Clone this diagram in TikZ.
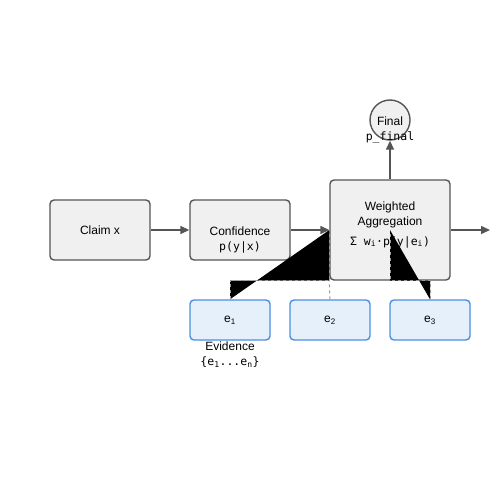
\documentclass[tikz,border=0pt]{standalone}
\usepackage{fontspec}
\setmainfont{Liberation Sans}
\setmonofont{DejaVu Sans Mono}
\usepackage{tikz}
\usetikzlibrary{arrows.meta}
\definecolor{boxfill}{HTML}{F0F0F0}
\definecolor{boxline}{HTML}{555555}
\definecolor{evfill}{HTML}{E6F0FB}
\definecolor{evline}{HTML}{4A90E2}
\definecolor{dashline}{HTML}{999999}

\begin{document}
\begin{tikzpicture}[x=1pt, y=-1pt, >={Triangle[length=9pt,width=8pt]},
    box/.style={draw=boxline, fill=boxfill, line width=1.4pt, rounded corners=4pt,
      minimum width=100pt, minimum height=60pt, inner sep=0pt, font=\fontsize{12}{14}\selectfont},
    evbox/.style={draw=evline, fill=evfill, line width=1.4pt, rounded corners=4pt,
      minimum width=80pt, minimum height=40pt, inner sep=0pt, font=\fontsize{12}{14}\selectfont},
    link/.style={->, draw=boxline, fill=boxline, line width=1.5pt},
    tie/.style={draw=dashline, dashed, line width=1pt},
    txt/.style={anchor=base, inner sep=0pt, font=\fontsize{12}{14}\selectfont},
    code/.style={anchor=base, inner sep=0pt, font=\ttfamily\fontsize{11.5}{13}\selectfont}]
  \useasboundingbox (0,0) rectangle (500,500);
  \node[box] (claim) at (100,230) {Claim x};
  \node[box] (conf) at (240,230) {};
  \node[txt] (conftitle) at ([yshift=-5pt]conf.center) {Confidence};
  \node[code] (confprob) at ([yshift=-20pt]conf.center) {p(y|x)};
  \node[box, minimum width=120pt, minimum height=100pt] (agg) at (390,230) {};
  \node[txt] (aggtop) at ([yshift=20pt]agg.center) {Weighted};
  \node[txt] (aggbottom) at ([yshift=5pt]agg.center) {Aggregation};
  \node[code] (aggsum) at ([yshift=-15pt]agg.center) {Σ w\textsubscript{i}·p(y|e\textsubscript{i})};
  \node[box, circle, minimum size=40pt] (final) at (390,120) {};
  \node[txt] (finaltxt) at ([yshift=-5pt]final.center) {Final};
  \node[code] (finalprob) at ([yshift=-20pt]final.center) {p\_final};
  \coordinate (result) at (490,230);
  % evidence row
  \node[evbox] (e1) at (230,320) {e\textsubscript{1}};
  \node[evbox] (e2) at (330,320) {e\textsubscript{2}};
  \node[evbox] (e3) at (430,320) {e\textsubscript{3}};
  \node[txt] (evtitle) at ([yshift=-10pt]e1.south) {Evidence};
  \node[code] (evset) at ([yshift=-25pt]e1.south) {\{e\textsubscript{1}...e\textsubscript{n}\}};
  \draw[link] (claim) -- (conf);
  \draw[link] (conf) -- (agg);
  \draw[link] (agg) -- (final);
  \draw[link] (agg) -- (result);
  \draw[tie, fill=black] (e1.north) |- (agg.south west) -- (agg.west);
  \draw[tie] (e2.north) -- (agg.south west);
  \draw[tie, fill=black] (e3.north) |- (agg.south) -- (agg.center);
\end{tikzpicture}
\end{document}
